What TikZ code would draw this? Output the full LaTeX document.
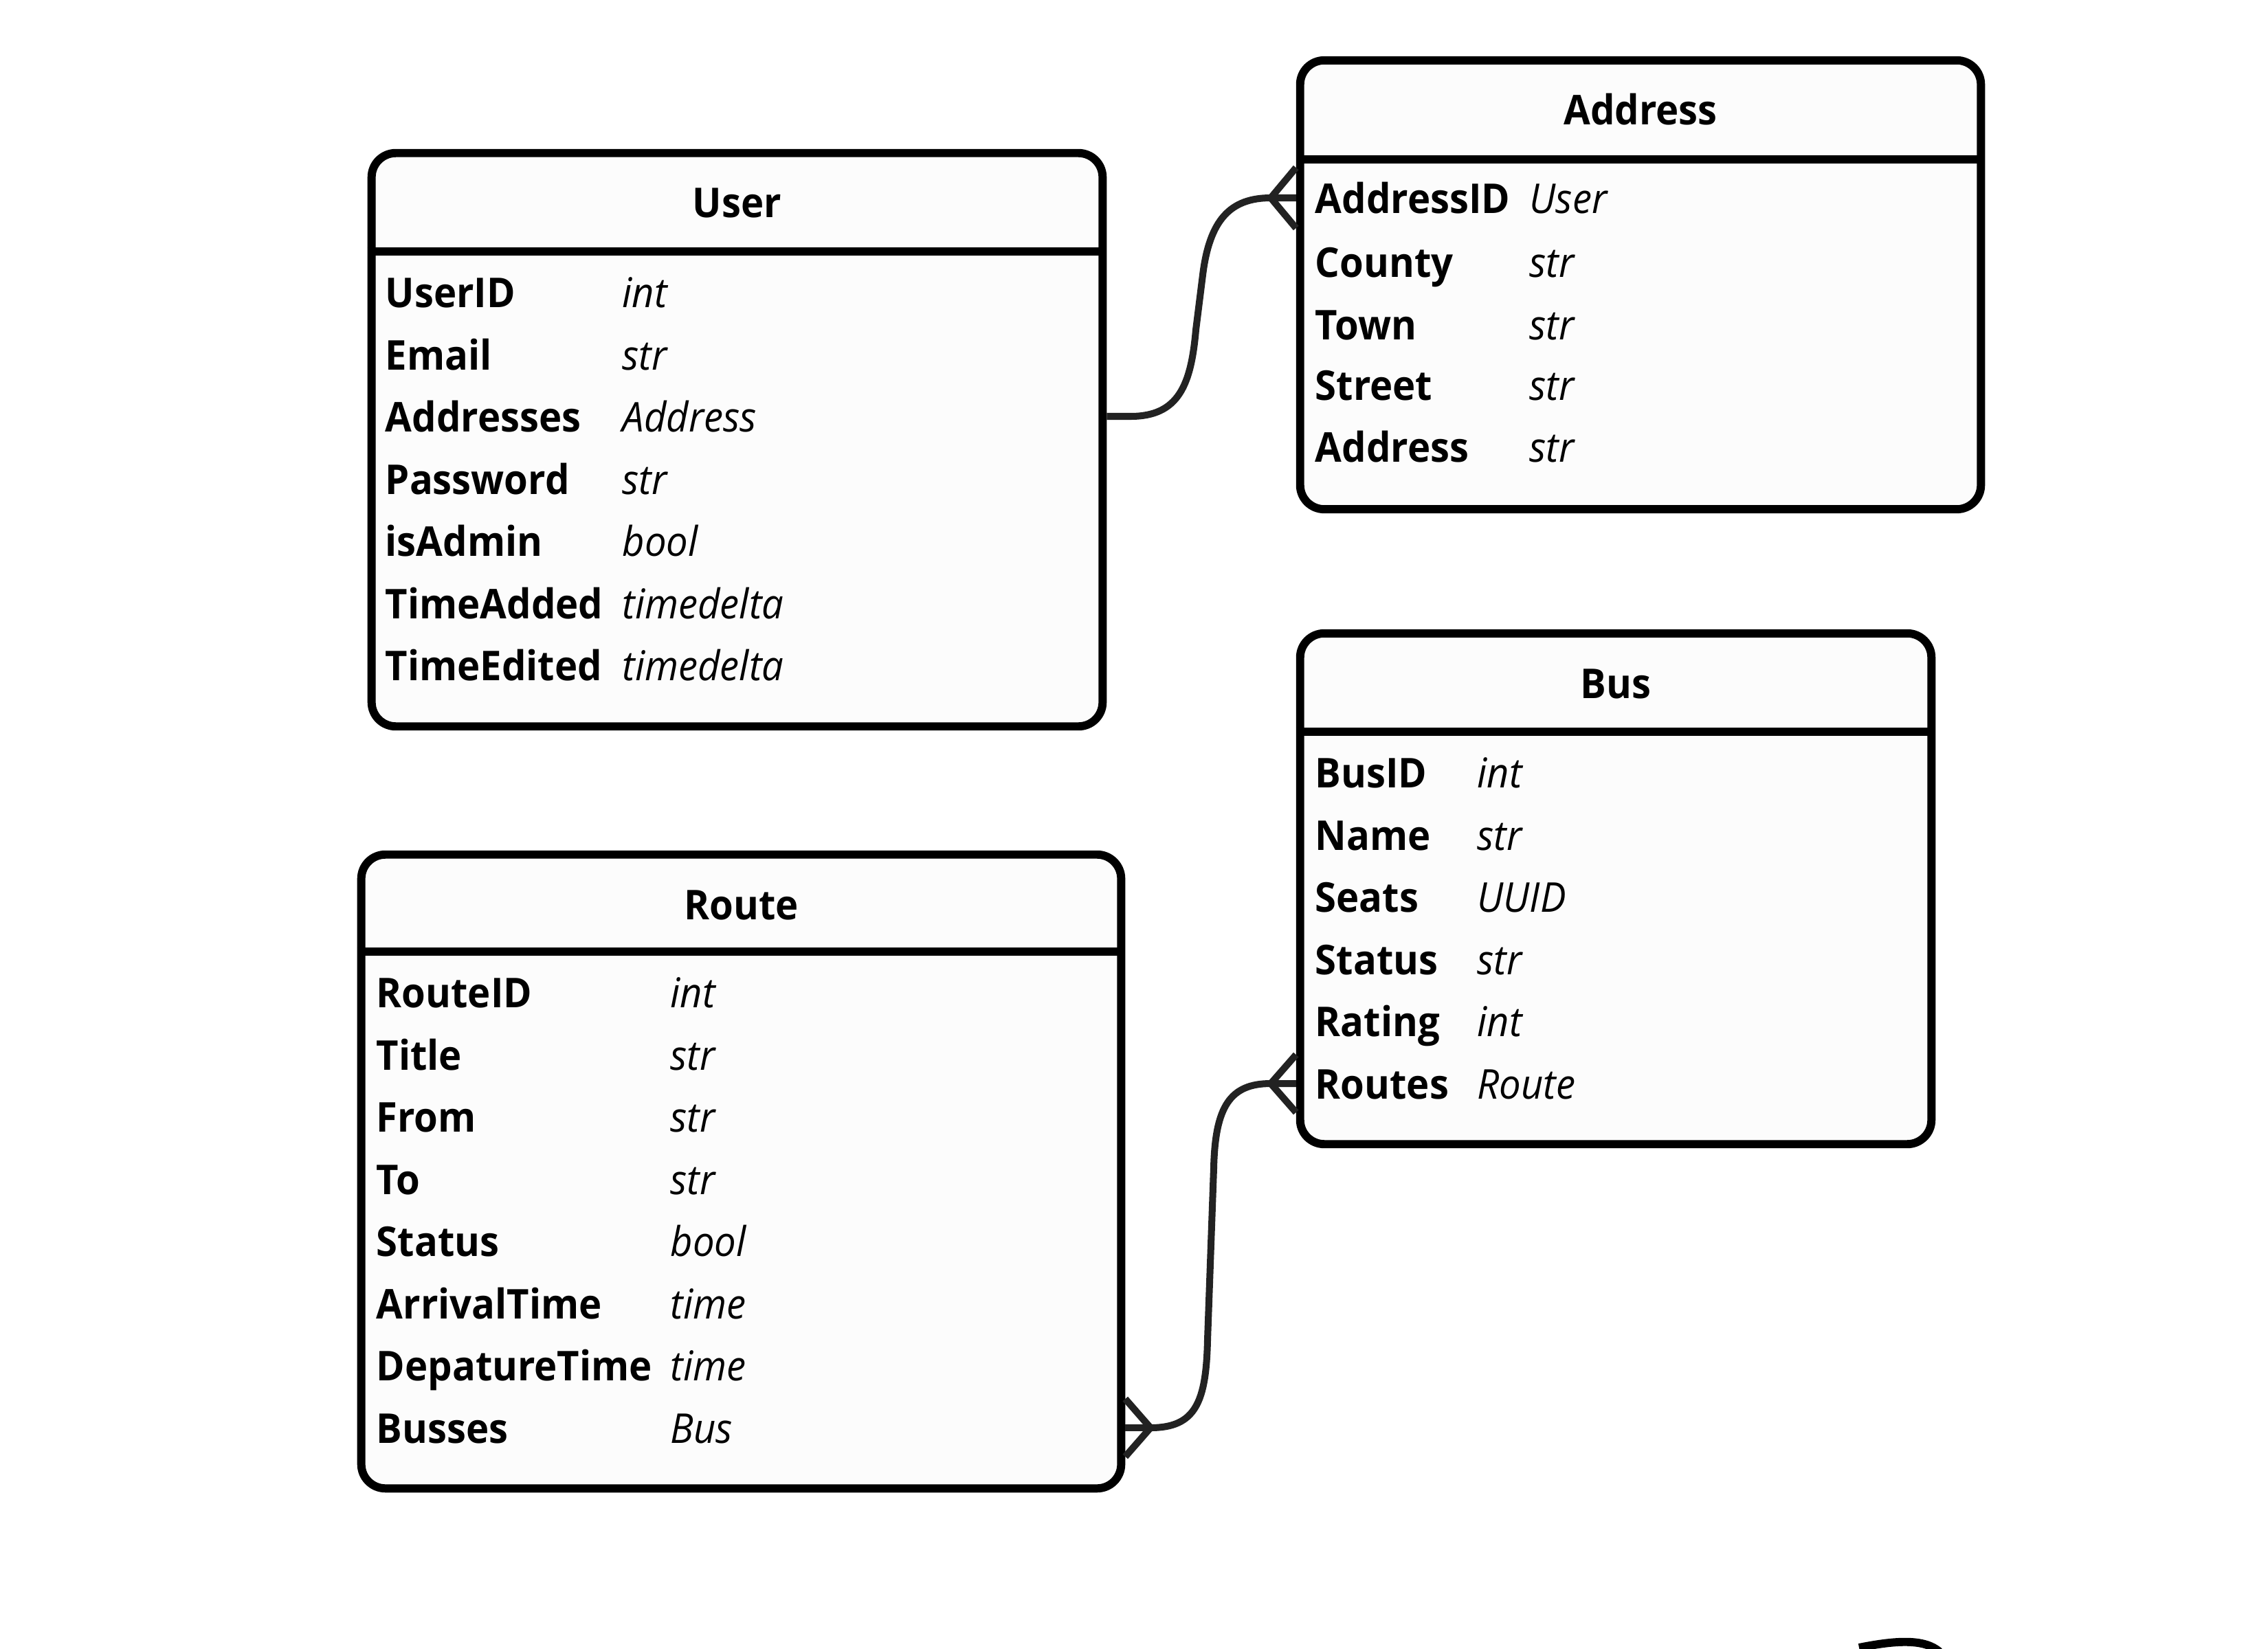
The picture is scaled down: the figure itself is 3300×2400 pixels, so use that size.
\documentclass[tikz,border=0pt]{standalone}
\usepackage{fontspec}
\setmainfont[FakeStretch=0.94]{Open Sans}
\usepackage{tikz}
\usepackage{xcolor}
\usetikzlibrary{positioning}
\definecolor{linkgray}{HTML}{222222}
\definecolor{boxfill}{HTML}{FCFCFC}
\newcommand{\tabfont}{\fontsize{17pt}{20pt}\selectfont}
\tikzset{
  table/.style={draw=black,fill=boxfill,line width=3.4pt,rounded corners=10pt,inner sep=0pt},
  rule/.style={draw=black,line width=3.4pt},
  title/.style={anchor=base,font=\tabfont\bfseries,inner sep=0pt},
  attr/.style={anchor=base west,font=\tabfont\bfseries,inner sep=0pt},
  kind/.style={anchor=base west,font=\tabfont\itshape,inner sep=0pt},
  link/.style={draw=linkgray,line width=2.85pt},
}

\begin{document}
\begin{tikzpicture}[x=0.01cm,y=-0.01cm]
    \path [fill=white,use as bounding box] (0,0) rectangle (3300,2400);

    % User
    \node [table,minimum width=10.63cm,minimum height=8.34cm] (user) at (1072.5,640) {};
    \node [title] (userT) at (1072.5,317) {User};
    \draw [rule] (user.west |- 0,366) -- (user.east |- 0,366);
    \node [attr] (u1) at (560,447) {UserID};      \node [kind] (u1t) at (905,447) {int};
    \node [attr] (u2) at (560,538) {Email};       \node [kind] (u2t) at (905,538) {str};
    \node [attr] (u3) at (560,628) {Addresses};   \node [kind] (u3t) at (905,628) {Address};
    \node [attr] (u4) at (560,719) {Password};    \node [kind] (u4t) at (905,719) {str};
    \node [attr] (u5) at (560,809) {isAdmin};     \node [kind] (u5t) at (905,809) {bool};
    \node [attr] (u6) at (560,900) {TimeAdded};   \node [kind] (u6t) at (905,900) {timedelta};
    \node [attr] (u7) at (560,990) {TimeEdited};  \node [kind] (u7t) at (905,990) {timedelta};

    % Address
    \node [table,minimum width=9.90cm,minimum height=6.53cm] (address) at (2387,414.5) {};
    \node [title] (addressT) at (2387,182) {Address};
    \draw [rule] (address.west |- 0,232) -- (address.east |- 0,232);
    \node [attr] (a1) at (1913,310) {AddressID};  \node [kind] (a1t) at (2225,310) {User};
    \node [attr] (a2) at (1913,403) {County};     \node [kind] (a2t) at (2225,403) {str};
    \node [attr] (a3) at (1913,494) {Town};       \node [kind] (a3t) at (2225,494) {str};
    \node [attr] (a4) at (1913,582) {Street};     \node [kind] (a4t) at (2225,582) {str};
    \node [attr] (a5) at (1913,672) {Address};    \node [kind] (a5t) at (2225,672) {str};

    % Bus
    \node [table,minimum width=9.18cm,minimum height=7.43cm] (bus) at (2351,1293.5) {};
    \node [title] (busT) at (2351,1016) {Bus};
    \draw [rule] (bus.west |- 0,1065) -- (bus.east |- 0,1065);
    \node [attr] (b1) at (1913,1146) {BusID};     \node [kind] (b1t) at (2149,1146) {int};
    \node [attr] (b2) at (1913,1237) {Name};      \node [kind] (b2t) at (2149,1237) {str};
    \node [attr] (b3) at (1913,1327) {Seats};     \node [kind] (b3t) at (2149,1327) {UUID};
    \node [attr] (b4) at (1913,1418) {Status};    \node [kind] (b4t) at (2149,1418) {str};
    \node [attr] (b5) at (1913,1508) {Rating};    \node [kind] (b5t) at (2149,1508) {int};
    \node [attr] (b6) at (1913,1599) {Routes};    \node [kind] (b6t) at (2149,1599) {Route};

    % Route
    \node [table,minimum width=11.05cm,minimum height=9.22cm] (route) at (1078.5,1705) {};
    \node [title] (routeT) at (1078.5,1338) {Route};
    \draw [rule] (route.west |- 0,1385) -- (route.east |- 0,1385);
    \node [attr] (r1) at (547,1466) {RouteID};       \node [kind] (r1t) at (975,1466) {int};
    \node [attr] (r2) at (547,1557) {Title};         \node [kind] (r2t) at (975,1557) {str};
    \node [attr] (r3) at (547,1647) {From};          \node [kind] (r3t) at (975,1647) {str};
    \node [attr] (r4) at (547,1738) {To};            \node [kind] (r4t) at (975,1738) {str};
    \node [attr] (r5) at (547,1828) {Status};        \node [kind] (r5t) at (975,1828) {bool};
    \node [attr] (r6) at (547,1919) {ArrivalTime};   \node [kind] (r6t) at (975,1919) {time};
    \node [attr] (r7) at (547,2009) {DepatureTime};  \node [kind] (r7t) at (975,2009) {time};
    \node [attr] (r8) at (547,2100) {Busses};        \node [kind] (r8t) at (975,2100) {Bus};

    % links
    \coordinate (addrFoot) at (1849,288);
    \coordinate (busFoot) at (1849,1577);
    \coordinate (routeFoot) at (1674,2078);
    \path [link] (user.east |- 0,606) -- (1645,606) .. controls (1715,606) and (1733,560) .. (1740,480)
        -- (1750,400) .. controls (1760,320) and (1790,288) .. (addrFoot) -- (address.west |- addrFoot);
    \path [link] (address.west |- 0,244) -- (addrFoot) -- (address.west |- 0,332);
    \path [link] (routeFoot) .. controls (1740,2078) and (1755,2040) .. (1757,1950)
        -- (1766,1700) .. controls (1768,1610) and (1790,1577) .. (busFoot) -- (bus.west |- busFoot);
    \path [link] (route.east |- routeFoot) -- (routeFoot);
    \path [link] (route.east |- 0,2036) -- (routeFoot) -- (route.east |- 0,2120);
    \path [link] (bus.west |- 0,1535) -- (busFoot) -- (bus.west |- 0,1619);

    \draw [line width=3.4pt] (2705,2398) .. controls (2760,2387) and (2800,2385) .. (2822,2404);
\end{tikzpicture}
\end{document}
